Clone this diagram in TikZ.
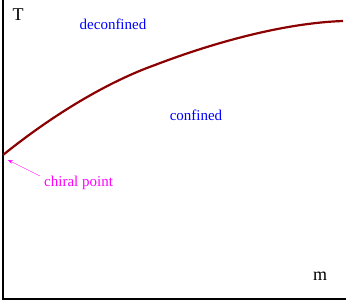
\documentclass[tikz,border=0pt]{standalone}
\usepackage{fontspec}
\setmainfont{Liberation Serif}
\usetikzlibrary{arrows.meta}
\definecolor{rojo}{RGB}{139,0,0}
\definecolor{azul}{RGB}{0,0,255}
\definecolor{magenta2}{RGB}{255,0,255}
\tikzset{
    etiqueta/.style={inner sep=0pt, font=\rmfamily\fontsize{15}{17}\selectfont},
    eje/.style={inner sep=0pt, font=\rmfamily\fontsize{18}{20}\selectfont},
    fase/.style={etiqueta, text=azul}
}
\begin{document}
\begin{tikzpicture}[x=1pt, y=1pt, >=Stealth]
    \useasboundingbox (0,0) rectangle (346,303);

    % Coordenadas de los ejes
    \coordinate (O) at (3,4);
    \coordinate (Ty) at (3,303);   % eje T
    \coordinate (Mx) at (346,4);   % eje m

    % Ejes (sin flechas)
    \draw[line width=2.5pt] (Ty) -- (O) -- (Mx);

    % Curva de transición
    \draw[rojo, line width=2.2pt] (3,148) .. controls (55,190) and (110,222) .. (155,238)
        .. controls (215,261) and (285,280) .. (343,282);

    % Etiquetas de los ejes
    \node[eje] (T) at (18,288) {T};
    \node[eje] (m) at (320,27) {m};

    % Fases
    \node[fase] (deconf) at (113,279) {deconfined};
    \node[fase] (conf) at (196,188) {confined};

    % Punto quiral
    \coordinate (Pq) at (8,143);
    \node[etiqueta, text=magenta2, anchor=west] (quiral) at (44,120) {chiral point};
    \draw[->, magenta2, thin] (40,127) -- (Pq);

\end{tikzpicture}
\end{document}
